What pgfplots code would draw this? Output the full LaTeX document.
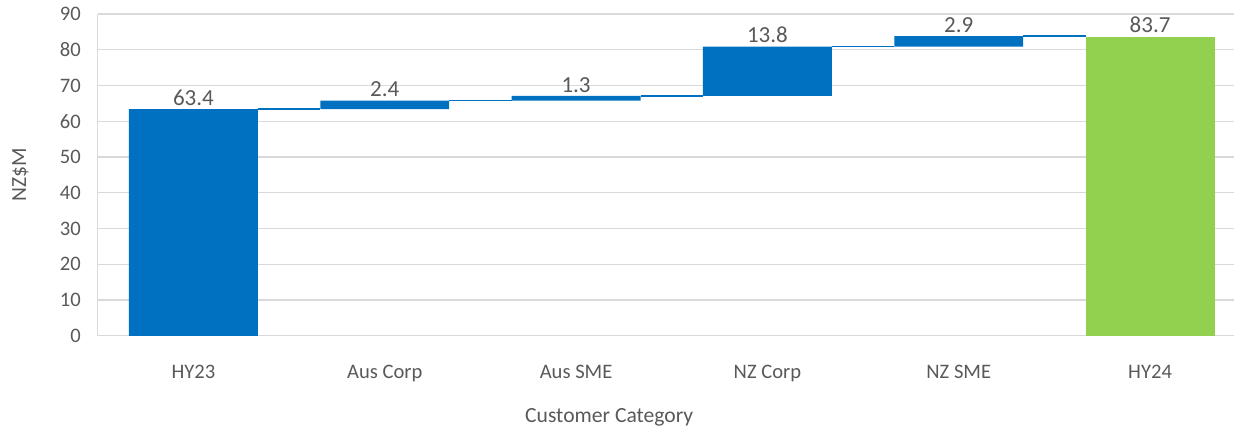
\documentclass[border=0pt]{standalone}
\usepackage{fontspec}
\setmainfont{Carlito}
\usepackage{pgfplots}
\pgfplotsset{compat=1.18}
\definecolor{barblue}{HTML}{0070C0}
\definecolor{bargreen}{HTML}{92D050}
\definecolor{txtgray}{HTML}{595959}
\definecolor{gridgray}{HTML}{D9D9D9}

\pgfplotsset{wf/.style={
    scale only axis,
    width=568.6pt, height=161pt,
    xmin=-0.5, xmax=5.44,
    ymin=0, ymax=90,
}}

\begin{document}
\begin{tikzpicture}
\begin{axis}[
    wf,
    ytick={0,10,...,90},
    xtick={0,...,5},
    xticklabels={HY23, Aus Corp, Aus SME, NZ Corp, NZ SME, HY24},
    ybar stacked,
    bar width=64.5pt,
    ymajorgrids,
    grid style={gridgray, line width=0.7pt},
    axis lines*=left,
    axis line style={gridgray, line width=0.7pt},
    major tick length=0pt,
    tick label style={font=\fontsize{10.3}{12}\selectfont, text=txtgray,
        /pgf/number format/assume math mode=true},
    xticklabel style={yshift=-11pt},
    yticklabel style={xshift=-5pt},
    xlabel={Customer Category},
    ylabel={NZ\$M},
    label style={font=\fontsize{10.8}{12}\selectfont, text=txtgray},
    xlabel style={at={(axis description cs:0.45,0)}, anchor=center, yshift=-41pt},
    ylabel style={at={(axis description cs:-0.068,0.5)}, anchor=center},
]
% invisible base of each bar
\addplot[fill=none, draw=none] coordinates {
  (0,0) (1,63.4) (2,65.8) (3,67.1) (4,80.9) (5,0)
};
% changes
\addplot[fill=barblue, draw=none] coordinates {
  (0,63.4) (1,2.4) (2,1.3) (3,13.8) (4,2.9) (5,0)
};
% closing total
\addplot[fill=bargreen, draw=none] coordinates {
  (0,0) (1,0) (2,0) (3,0) (4,0) (5,83.7)
};
\coordinate (bl) at (rel axis cs:0,0);
\coordinate (tl) at (rel axis cs:0,1);
\end{axis}
% overlay: connectors and value labels
\begin{axis}[wf, hide axis]
\addplot[sharp plot, no markers, barblue, line width=0.8pt, unbounded coords=jump] coordinates {
  (0.337,63.4) (0.663,63.4) (0.663,nan)
  (1.337,65.8) (1.663,65.8) (1.663,nan)
  (2.337,67.1) (2.663,67.1) (2.663,nan)
  (3.337,80.9) (3.663,80.9) (3.663,nan)
  (4.337,83.8) (4.663,83.8)
};
\addplot[only marks, mark=none,
    nodes near coords, point meta=explicit symbolic,
    every node near coord/.style={font=\fontsize{11.5}{12}\selectfont, text=txtgray, anchor=south, inner sep=1.5pt}] coordinates {
  (0,63.4) [63.4]
  (1,65.8) [2.4]
  (2,67.1) [1.3]
  (3,80.9) [13.8]
  (4,83.8) [2.9]
  (5,83.7) [83.7]
};
\end{axis}
\path (bl) ++(-48.9pt,-47.5pt);
\path (tl) ++(0,7pt);
\end{tikzpicture}
\end{document}
